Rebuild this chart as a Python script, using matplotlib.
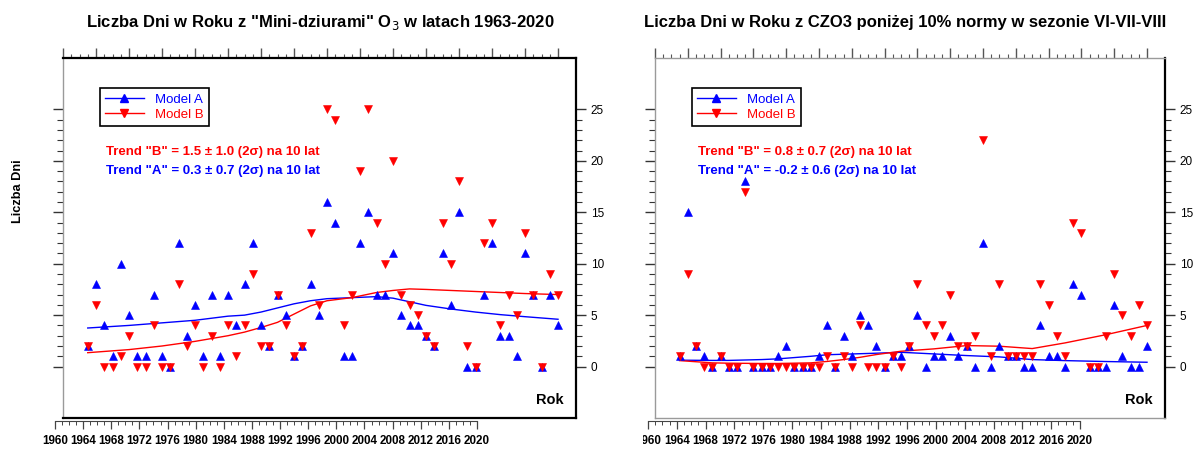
import matplotlib
matplotlib.use("Agg")
import matplotlib.pyplot as plt
from matplotlib.ticker import FixedLocator
from matplotlib.transforms import Bbox, TransformedBbox
from matplotlib.lines import Line2D

plt.rcParams['font.family'] = ['Liberation Sans', 'DejaVu Sans']

# ---- data -------------------------------------------------------------
years = list(range(1963, 2021))

# Days per year with ozone "mini-holes"
mini_a = [2, 8, 4, 1, 10, 5, 1, 1, 7, 1,
          0, 12, 3, 6, 1, 7, 1, 7, 4, 8,
          12, 4, 2, 7, 5, 1, 2, 8, 5, 16,
          14, 1, 1, 12, 15, 7, 7, 11, 5, 4,
          4, 3, 2, 11, 6, 15, 0, 0, 7, 12,
          3, 3, 1, 11, 7, 0, 7, 4]
mini_b = [2, 6, 0, 0, 1, 3, 0, 0, 4, 0,
          0, 8, 2, 4, 0, 3, 0, 4, 1, 4,
          9, 2, 2, 7, 4, 1, 2, 13, 6, 25,
          24, 4, 7, 19, 25, 14, 10, 20, 7, 6,
          5, 3, 2, 14, 10, 18, 2, 0, 12, 14,
          4, 7, 5, 13, 7, 0, 9, 7]

# Days per year with total ozone below 10% of the norm in JJA
low_a = [1, 15, 2, 1, 0, 1, 0, 0, 18, 0,
         0, 0, 1, 2, 0, 0, 0, 1, 4, 0,
         3, 1, 5, 4, 2, 0, 1, 1, 2, 5,
         0, 1, 1, 3, 1, 2, 0, 12, 0, 2,
         1, 1, 0, 0, 4, 1, 1, 0, 8, 7,
         0, 0, 0, 6, 1, 0, 0, 2]
low_b = [1, 9, 2, 0, 0, 1, 0, 0, 17, 0,
         0, 0, 0, 0, 0, 0, 0, 0, 1, 0,
         1, 0, 4, 0, 0, 0, 1, 0, 2, 8,
         4, 3, 4, 7, 2, 2, 3, 22, 1, 8,
         1, 1, 1, 1, 8, 6, 3, 1, 14, 13,
         0, 0, 3, 9, 5, 3, 6, 4]

# Smoothed curves
mini_smooth_years = [1963, 1968, 1972, 1976, 1980, 1982, 1984, 1986, 1988, 1990,
                     1992, 1995, 1998, 2000, 2002, 2004, 2007, 2010, 2013, 2016, 2020]
mini_a_smooth = [3.75, 4.0, 4.25, 4.5, 4.9, 5.0, 5.3, 5.7, 6.1, 6.4,
                 6.6, 6.7, 6.8, 6.65, 6.3, 5.95, 5.6, 5.3, 5.05, 4.85, 4.6]
mini_b_smooth = [1.35, 1.65, 2.0, 2.45, 3.0, 3.35, 3.8, 4.3, 5.1, 5.9,
                 6.4, 6.7, 7.2, 7.4, 7.55, 7.5, 7.4, 7.3, 7.2, 7.1, 7.0]

low_smooth_years = [1963, 1967, 1969, 1973, 1975, 1979, 1981, 1983, 1985, 1987,
                    1990, 1994, 1998, 2002, 2006, 2010, 2015, 2020]
low_a_smooth = [0.62, 0.6, 0.6, 0.68, 0.75, 1.0, 1.15, 1.2, 1.25, 1.3,
                1.39, 1.23, 1.07, 0.94, 0.68, 0.58, 0.49, 0.42]
low_b_smooth = [0.58, 0.36, 0.33, 0.3, 0.3, 0.36, 0.5, 0.68, 0.9, 1.17,
                1.49, 1.72, 2.04, 1.98, 1.75, 2.3, 3.1, 4.0]

titles = ['Liczba Dni w Roku z "Mini-dziurami" O$_3$ w latach 1963-2020',
          'Liczba Dni w Roku z CZO3 poniżej 10% normy w sezonie VI-VII-VIII']
trend_b = ['Trend "B" = 1.5 \u00b1 1.0 (2\u03c3) na 10 lat',
           'Trend "B" = 0.8 \u00b1 0.7 (2\u03c3) na 10 lat']
trend_a = ['Trend "A" = 0.3 \u00b1 0.7 (2\u03c3) na 10 lat',
           'Trend "A" = -0.2 \u00b1 0.6 (2\u03c3) na 10 lat']
year_ticks = list(range(1960, 2021, 4))
value_ticks = [0, 5, 10, 15, 20, 25]

# ---- figure -----------------------------------------------------------
W, H = 1198, 450
fig = plt.figure(figsize=(W / 100, H / 100), dpi=100)
BLUE = '#0000ff'
RED = '#ff0000'
GRAY = '#9a9a9a'
MS = 5.4


def fx(x):
    return x / W


def fy(y):
    return 1 - y / H


def panel(x0, x1, px_per_year, sa, sb, sy, ca, cb,
          bx0, bx1, title, title_x, tb, ta, spine_colors, ylabel=None, clip_x=None):
    ax = fig.add_axes([fx(x0), fy(418), fx(x1 - x0), (418 - 58) / H])
    ax.set_xlim(1960, 1960 + (x1 - x0) / px_per_year)
    ax.set_ylim(-5, 30)

    ax.plot(sy, ca, color=BLUE, lw=1.0, zorder=2)
    ax.plot(sy, cb, color=RED, lw=1.0, zorder=2)
    ax.plot(years, sa, ls='none', marker='^', ms=MS, mew=0.4, color=BLUE, mec=BLUE, zorder=3)
    ax.plot(years, sb, ls='none', marker='v', ms=MS, mew=0.4, color=RED, mec=RED, zorder=4)

    for side, col in spine_colors.items():
        ax.spines[side].set_color(col)
        ax.spines[side].set_linewidth(1.6 if col == 'black' else 1.0)

    # year ticks on the top edge
    ax.xaxis.set_major_locator(FixedLocator(year_ticks))
    ax.xaxis.set_minor_locator(FixedLocator(list(range(1960, 2021))))
    ax.tick_params(axis='x', which='both', top=True, bottom=False,
                   labeltop=False, labelbottom=False, direction='out', color='#555555')
    ax.tick_params(axis='x', which='major', length=7.2, width=1.0)
    ax.tick_params(axis='x', which='minor', length=3.2, width=0.8)

    # value ticks on both sides, labels on the right
    ax.yaxis.set_major_locator(FixedLocator(value_ticks))
    ax.yaxis.set_minor_locator(FixedLocator(list(range(0, 26))))
    ax.tick_params(axis='y', which='both', left=True, right=True,
                   labelleft=False, labelright=True, direction='out', color='#333333')
    ax.tick_params(axis='y', which='major', length=7.5, width=1.0, labelsize=8.5, pad=3)
    ax.tick_params(axis='y', which='minor', length=4.5, width=0.8)

    ax.text(0.975, 0.049, 'Rok', transform=ax.transAxes, ha='right', va='center',
            fontsize=10.5, fontweight='bold')

    handles = [Line2D([], [], color=BLUE, lw=1.0, marker='^', ms=MS, label='Model A'),
               Line2D([], [], color=RED, lw=1.0, marker='v', ms=MS, label='Model B')]
    leg = ax.legend(handles=handles, loc='upper left',
                    bbox_to_anchor=(fx(x0 + 37), fy(88)),
                    bbox_transform=fig.transFigure, fancybox=False, framealpha=1,
                    edgecolor='black', fontsize=9.5, handlelength=2.9,
                    handletextpad=0.9, borderpad=0.4, labelspacing=0.25,
                    borderaxespad=0)
    leg.get_frame().set_linewidth(1.2)
    for t, c in zip(leg.get_texts(), [BLUE, RED]):
        t.set_color(c)

    fig.text(fx(x0 + 43), fy(152), tb, color=RED, fontsize=9.5, fontweight='bold',
             ha='left', va='center')
    fig.text(fx(x0 + 43), fy(171), ta, color=BLUE, fontsize=9.5, fontweight='bold',
             ha='left', va='center')

    t = fig.text(fx(title_x), fy(22), title, fontsize=12, fontweight='bold',
                 ha='center', va='center')

    # separate year scale under the frame
    bax = fig.add_axes([fx(bx0), fy(420.5), fx(bx1 - bx0), 0.0005])
    bax.set_xlim(1960, 2020)
    bax.set_ylim(0, 1)
    bax.patch.set_visible(False)
    for side in ['top', 'left', 'right']:
        bax.spines[side].set_visible(False)
    bax.spines['bottom'].set_color('#444444')
    bax.spines['bottom'].set_linewidth(0.8)
    bax.set_yticks([])
    bax.xaxis.set_major_locator(FixedLocator(year_ticks))
    bax.xaxis.set_minor_locator(FixedLocator(list(range(1960, 2021))))
    bax.tick_params(axis='x', which='major', length=5.5, width=0.9, color='#444444',
                    labelsize=8.4, pad=5)
    bax.tick_params(axis='x', which='minor', length=3.2, width=0.7, color='#444444')
    for lab in bax.get_xticklabels():
        lab.set_fontweight('bold')

    if clip_x is not None:
        box = TransformedBbox(Bbox([[fx(clip_x), 0], [1, 1]]), fig.transFigure)
        for lab in bax.get_xticklabels():
            lab.set_clip_box(box)
            lab.set_clip_on(True)
        t.set_clip_box(box)
        t.set_clip_on(True)

    if ylabel:
        fig.text(fx(18), fy(191), ylabel, rotation=90, fontsize=9.2, fontweight='bold',
                 ha='center', va='center')
    return ax


panel(63, 576, 8.25, mini_a, mini_b, mini_smooth_years, mini_a_smooth, mini_b_smooth,
      55, 477, titles[0], 320, trend_b[0], trend_a[0],
      {'top': 'black', 'bottom': 'black', 'left': GRAY, 'right': 'black'},
      ylabel='Liczba Dni')
panel(655, 1165, 8.2, low_a, low_b, low_smooth_years, low_a_smooth, low_b_smooth,
      648, 1080, titles[1], 905, trend_b[1], trend_a[1],
      {'top': GRAY, 'bottom': GRAY, 'left': GRAY, 'right': 'black'},
      clip_x=643)

fig.savefig('out.png', dpi=100)
